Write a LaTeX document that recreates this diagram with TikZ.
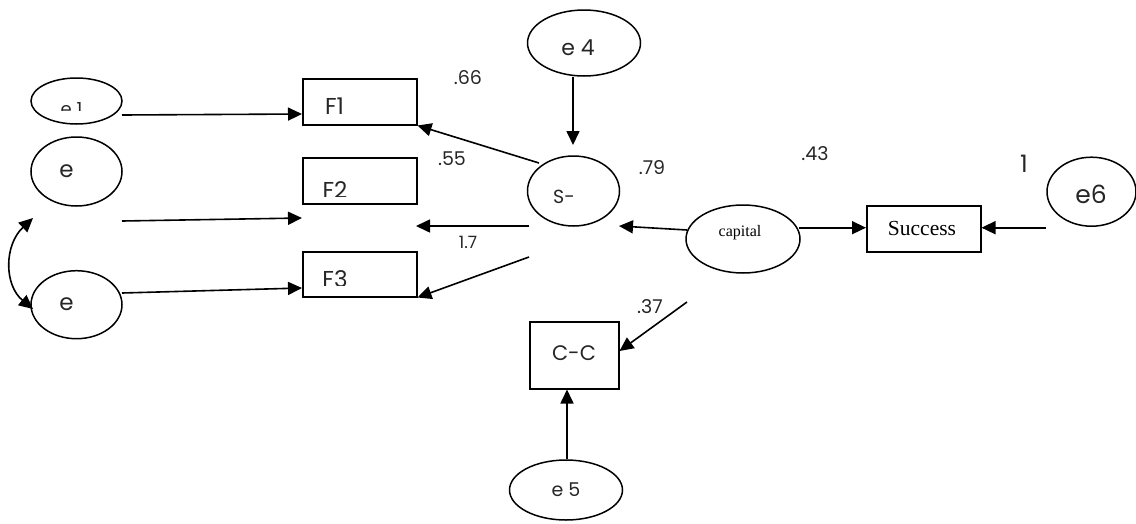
\documentclass[tikz,border=0pt]{standalone}
\usepackage{fontspec}
\setmainfont{Liberation Serif}
\newfontfamily\gothic{Poppins}
\usetikzlibrary{arrows.meta,shapes.geometric}
\tikzset{
  ell/.style={draw, ellipse, line width=1.5pt, inner sep=0pt},
  box/.style={draw, rectangle, line width=1.5pt, inner sep=0pt, anchor=north west},
  txt/.style={font=\gothic, inner sep=0pt, text=black!85},
  serif/.style={font=\rmfamily, inner sep=0pt},
  arr/.style={line width=1.6pt, -{Triangle[length=14pt,width=13pt]}},
  dbl/.style={line width=1.6pt, {Triangle[length=14pt,width=13pt]}-{Triangle[length=14pt,width=13pt]}},
}
\begin{document}
\begin{tikzpicture}[x=1pt,y=-1pt]
\useasboundingbox (0,0) rectangle (1136,523);
% ellipses
\node[ell, minimum width=91pt, minimum height=46pt] (e1) at (76.5,101) {};
\node[ell, minimum width=91pt, minimum height=69pt] (e2) at (76.5,171.5) {};
\node[ell, minimum width=91pt, minimum height=68pt] (e3) at (76.5,304.7) {};
\node[ell, minimum width=113pt, minimum height=66pt] (e4) at (584,43) {};
\node[ell, minimum width=92pt, minimum height=70pt] (s) at (573.5,191) {};
\node[ell, minimum width=114pt, minimum height=68pt] (cap) at (743,239) {};
\node[ell, minimum width=89pt, minimum height=69pt] (e6) at (1091.5,191.7) {};
\node[ell, minimum width=113pt, minimum height=60pt] (e5) at (566,490) {};
% boxes
\node[box, minimum width=114pt, minimum height=46pt] (f1) at (302,78) {};
\node[box, minimum width=114pt, minimum height=46pt] (f2) at (302,157) {};
\node[box, minimum width=114pt, minimum height=45pt] (f3) at (302,251) {};
\node[box, minimum width=114pt, minimum height=46pt] (succ) at (866,205) {};
\node[box, minimum width=89pt, minimum height=67pt] (cc) at (529,321) {};
% texts
\begin{scope}
\clip (20,80) rectangle (130,110);
\node[txt, font=\gothic\fontsize{18}{18}\selectfont] (te1) at (71.5,109) {e 1};
\end{scope}
\node[txt, font=\gothic\fontsize{23}{23}\selectfont] (te2) at (66.5,171) {e};
\node[txt, font=\gothic\fontsize{23}{23}\selectfont] (te3) at (66.5,304) {e};
\node[txt, font=\gothic\fontsize{23}{23}\selectfont] (tf1) at (334.5,106) {F1};
\begin{scope}
\clip (305,160) rectangle (410,196);
\node[txt, font=\gothic\fontsize{23}{23}\selectfont] (tf2) at (335,190) {F2};
\end{scope}
\begin{scope}
\clip (305,254) rectangle (410,285);
\node[txt, font=\gothic\fontsize{23}{23}\selectfont] (tf3) at (335,279) {F3};
\end{scope}
\node[txt, font=\gothic\fontsize{22}{22}\selectfont] (te4) at (578,48) {e 4};
\node[txt, font=\gothic\fontsize{19}{19}\selectfont] (ts) at (564,197) {S-};
\node[serif, font=\rmfamily\fontsize{16}{16}\selectfont] (tcap) at (740,233) {capital};
\node[serif, font=\rmfamily\fontsize{21.5}{21.5}\selectfont] (tsucc) at (922,228) {Success};
\node[txt, font=\gothic\fontsize{25}{25}\selectfont] (te6) at (1091,194) {e6};
\node[txt, font=\gothic\fontsize{21}{21}\selectfont] (tcc) at (574,353) {C-C};
\node[txt, font=\gothic\fontsize{19}{19}\selectfont] (te5) at (566,490) {e 5};
% labels
\node[txt, font=\gothic\fontsize{19}{19}\selectfont] (l66) at (468,78) {.66};
\node[txt, font=\gothic\fontsize{19}{19}\selectfont] (l55) at (452,159) {.55};
\node[txt, font=\gothic\fontsize{19}{19}\selectfont] (l79) at (652,168) {.79};
\node[txt, font=\gothic\fontsize{17}{17}\selectfont] (l17) at (468,242) {1.7};
\node[txt, font=\gothic\fontsize{19}{19}\selectfont] (l43) at (815,154) {.43};
\node[txt, font=\gothic\fontsize{24}{24}\selectfont] (l1) at (1024,164) {1};
\node[txt, font=\gothic\fontsize{19}{19}\selectfont] (l37) at (650,307) {.37};
% free connector ends
\coordinate (a1) at (122,115);
\coordinate (a2s) at (122,221);
\coordinate (a2e) at (302,218);
\coordinate (a3s) at (122,293);
\coordinate (sf1) at (539,163);
\coordinate (sf2s) at (529,226);
\coordinate (sf2e) at (416,226);
\coordinate (sf3s) at (529,257);
\coordinate (capl) at (687,230);
\coordinate (capr) at (799,227.7);
\coordinate (sr) at (619,226);
\coordinate (ccs) at (687,302);
\coordinate (cur1) at (33,218);
\coordinate (cur2) at (33,309);
% connectors
\draw[arr] (a1) -- (f1.west |- 0,114);
\draw[arr] (a2s) -- (a2e);
\draw[arr] (a3s) -- (f3.west |- 0,288);
\draw[arr] (e4.south -| 573,0) -- (573,145);
\draw[arr] (sf1) -- (f1.south east);
\draw[arr] (sf2s) -- (sf2e);
\draw[arr] (sf3s) -- (f3.south east);
\draw[arr] (capl) -- (sr);
\draw[arr] (capr) -- (succ.west |- 0,227.7);
\draw[arr] (e6.west |- 0,227.7) -- (succ.east |- 0,227.7);
\draw[arr] (ccs) -- (cc.east |- 0,351);
\draw[arr] (e5.north -| 567,0) -- (cc.south -| 567,0);
\draw[dbl] (cur1) .. controls (4,245) and (4,285) .. (cur2);
\end{tikzpicture}
\end{document}
